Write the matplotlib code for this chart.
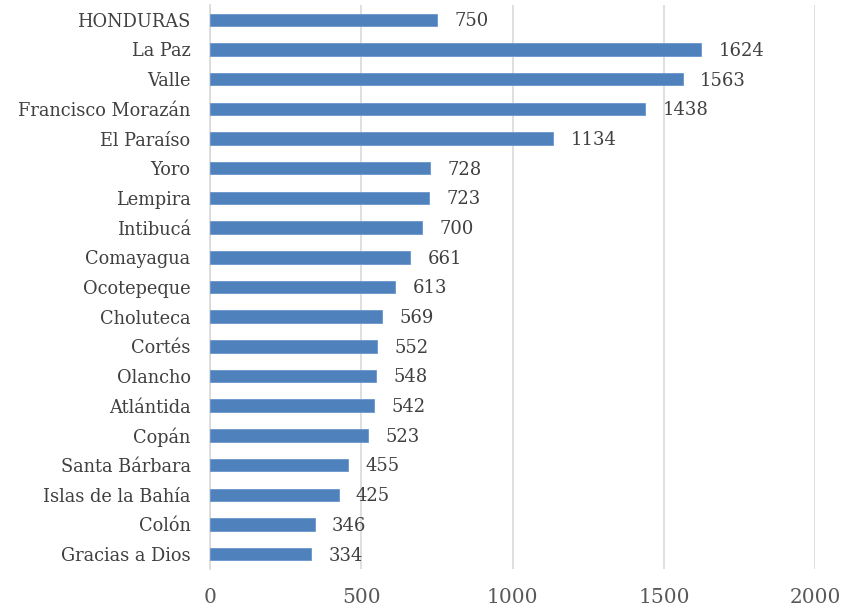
import matplotlib.pyplot as plt

departamentos = ["HONDURAS", "La Paz", "Valle", "Francisco Morazán", "El Paraíso", "Yoro",
                 "Lempira", "Intibucá", "Comayagua", "Ocotepeque", "Choluteca", "Cortés",
                 "Olancho", "Atlántida", "Copán", "Santa Bárbara", "Islas de la Bahía",
                 "Colón", "Gracias a Dios"]
valores = [750, 1624, 1563, 1438, 1134, 728, 723, 700, 661, 613, 569, 552, 548, 542,
           523, 455, 425, 346, 334]
ticks_x = [0, 500, 1000, 1500, 2000]

plt.rcParams['font.family'] = ['DejaVu Serif']

fig = plt.figure(figsize=(8.65, 6.13), dpi=100)
ax = fig.add_axes([0.2428, 0.0718, 0.6994, 0.9201])

pos = list(range(len(valores)))[::-1]
ax.barh(pos, valores, height=0.42, color='#4F81BD', edgecolor='#6A96CC', linewidth=0.6, zorder=3)
for p, v in zip(pos, valores):
    ax.annotate(str(v), (v, p), xytext=(12.5, -1), textcoords='offset points',
                va='center', ha='left', fontsize=13, color='#404040')

ax.set_xlim(0, 2000)
ax.set_ylim(-0.5, len(valores) - 0.5)
ax.set_yticks(pos)
ax.set_yticklabels(departamentos, fontsize=12.8, color='#404040')
ax.set_xticks(ticks_x)
ax.set_xticklabels([str(t) for t in ticks_x], fontsize=14.5, color='#595959')
ax.tick_params(axis='both', length=0)
ax.tick_params(axis='x', pad=14)
ax.tick_params(axis='y', pad=14)
ax.grid(axis='x', color='#D9D9D9', linewidth=1.2, zorder=0)
for s in ['top', 'right', 'bottom']:
    ax.spines[s].set_visible(False)
ax.spines['left'].set_color('#D9D9D9')
ax.spines['left'].set_linewidth(1.2)

fig.savefig('out.png', dpi=100)
